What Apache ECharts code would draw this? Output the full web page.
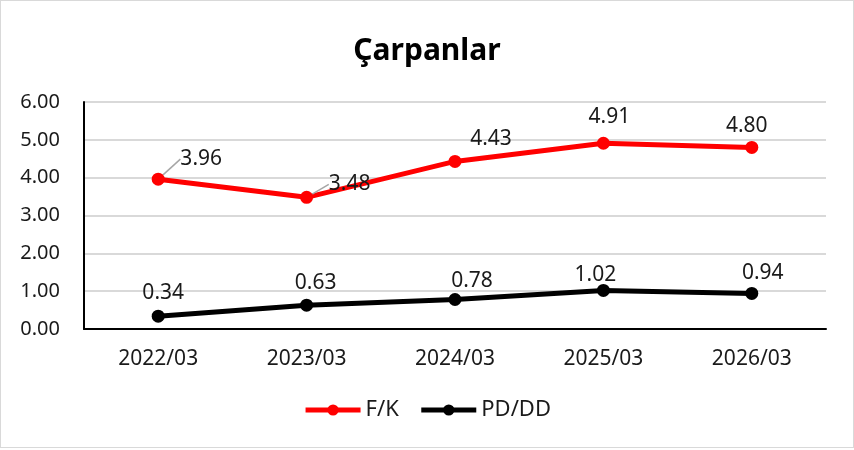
<!DOCTYPE html>
<html>
<head>
<meta charset="utf-8">
<script src="https://cdn.jsdelivr.net/npm/echarts@6/dist/echarts.min.js"></script>
<style>
  html, body { margin: 0; padding: 0; background: #fff; }
  #chart { width: 852px; height: 446px; border: 1px solid #d9d9d9; }
</style>
</head>
<body>
<div id="chart"></div>
<script>
const categories = ['2022/03', '2023/03', '2024/03', '2025/03', '2026/03'];
const fkValues = [3.96, 3.48, 4.43, 4.91, 4.80];
const pdddValues = [0.34, 0.63, 0.78, 1.02, 0.94];

const chart = echarts.init(document.getElementById('chart'), null, { renderer: 'canvas' });

const font = 'Noto Sans';
const txt = '#1a1a1a';

// labels in the original were nudged by hand, so shift them a bit
const fkShift = [[43, 2], [43, 9], [36, 0], [6, -4], [-5, 1]];
const pdShift = [[5, -1], [9, 0], [17, 4], [-8, 7], [11, 2]];

// only the first two F/K labels have leader lines
const fkData = fkValues.map((v, i) => i < 2
  ? { value: v, labelLine: { show: true } }
  : { value: v, labelLine: { show: false } });

const labelOpt = {
  show: true, position: 'top', distance: 5,
  fontFamily: font, fontSize: 21, color: txt,
  formatter: p => p.value.toFixed(2)
};

const option = {
  backgroundColor: '#fff',
  animation: false,
  title: {
    text: 'Çarpanlar',
    left: 'center',
    top: 30,
    textStyle: { fontFamily: font, fontSize: 30, fontWeight: 'bold', color: '#000' }
  },
  legend: {
    bottom: 21,
    left: 'center',
    itemWidth: 55,
    itemHeight: 14,
    itemGap: 20,
    lineStyle: { width: 5 },
    textStyle: { fontFamily: font, fontSize: 22, color: txt },
    data: ['F/K', 'PD/DD']
  },
  grid: { left: 83, right: 27, top: 101, bottom: 118 },
  xAxis: {
    type: 'category',
    data: categories,
    axisLine: { lineStyle: { color: '#000', width: 2 } },
    axisTick: { show: false },
    axisLabel: { fontFamily: font, fontSize: 21, color: txt, margin: 20 }
  },
  yAxis: {
    type: 'value',
    min: 0,
    max: 6,
    interval: 1,
    axisLine: { show: true, lineStyle: { color: '#000', width: 2 } },
    axisTick: { show: false },
    splitLine: { lineStyle: { color: '#d9d9d9', width: 2 } },
    axisLabel: {
      fontFamily: font, fontSize: 20, color: txt, margin: 24,
      formatter: v => v.toFixed(2)
    }
  },
  series: [
    {
      name: 'F/K',
      type: 'line',
      data: fkData,
      symbol: 'circle',
      symbolSize: 13,
      color: '#ff0000',
      lineStyle: { width: 5, color: '#ff0000' },
      label: labelOpt,
      labelLine: { lineStyle: { color: '#a6a6a6', width: 1.5 } },
      labelLayout: p => ({ dx: fkShift[p.dataIndex][0], dy: fkShift[p.dataIndex][1] })
    },
    {
      name: 'PD/DD',
      type: 'line',
      data: pdddValues,
      symbol: 'circle',
      symbolSize: 13,
      color: '#000',
      lineStyle: { width: 5, color: '#000' },
      label: labelOpt,
      labelLayout: p => ({ dx: pdShift[p.dataIndex][0], dy: pdShift[p.dataIndex][1] })
    }
  ]
};

chart.setOption(option);
</script>
</body>
</html>
